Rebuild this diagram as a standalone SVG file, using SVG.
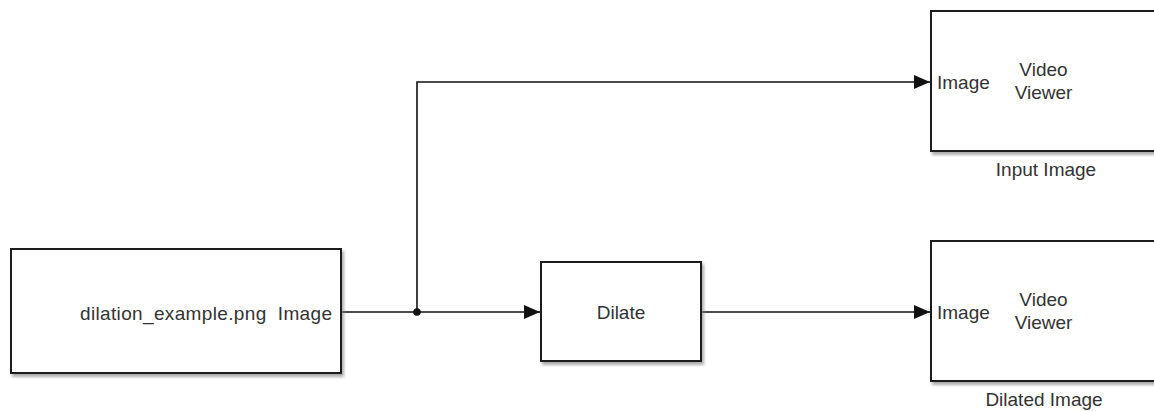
<svg xmlns="http://www.w3.org/2000/svg" width="1154" height="411" viewBox="0 0 1154 411">
<style>
.blk{fill:#fff;stroke:#1a1a1a;stroke-width:2;filter:url(#sh)}
.t{font-family:"Liberation Sans",Arial,sans-serif;font-size:19px;fill:#333}
.c{stroke:#111;stroke-width:1.6;fill:none}
</style>
<defs>
<filter id="sh" x="-10%" y="-10%" width="130%" height="130%">
<feDropShadow dx="2" dy="3" stdDeviation="1.5" flood-color="#888" flood-opacity="0.7"/>
</filter>
<marker id="ar" markerUnits="userSpaceOnUse" markerWidth="16" markerHeight="14" refX="16" refY="7" orient="auto">
<path d="M0,0 L16,7 L0,14 z" fill="#111"/>
</marker>
</defs>
<rect width="1154" height="411" fill="#fff"/>
<g id="connectors">
<path class="c" d="M341,312 H417 H540" marker-end="url(#ar)"/>
<path class="c" d="M417,312 V82 H930" marker-end="url(#ar)"/>
<path class="c" d="M701,312 H930" marker-end="url(#ar)"/>
<circle cx="417" cy="312" r="3.8" fill="#111"/>
</g>
<g id="source">
<rect class="blk" x="11" y="249" width="330" height="124"/>
<text class="t" x="80" y="320" textLength="252" lengthAdjust="spacing" xml:space="preserve">dilation_example.png  Image</text>
</g>
<g id="dilate">
<rect class="blk" x="541" y="262" width="160" height="99"/>
<text class="t" x="621" y="319" text-anchor="middle">Dilate</text>
</g>
<g id="input-viewer">
<rect class="blk" x="931" y="11" width="240" height="140"/>
<text class="t" x="937" y="88.5">Image</text>
<text class="t" x="1043.5" y="76" text-anchor="middle">Video</text>
<text class="t" x="1043.5" y="99" text-anchor="middle">Viewer</text>
<text class="t" x="1046" y="176" text-anchor="middle">Input Image</text>
</g>
<g id="dilated-viewer">
<rect class="blk" x="931" y="241" width="240" height="140"/>
<text class="t" x="937" y="318.5">Image</text>
<text class="t" x="1043.5" y="306" text-anchor="middle">Video</text>
<text class="t" x="1043.5" y="329" text-anchor="middle">Viewer</text>
<text class="t" x="1044" y="406" text-anchor="middle">Dilated Image</text>
</g>
</svg>
